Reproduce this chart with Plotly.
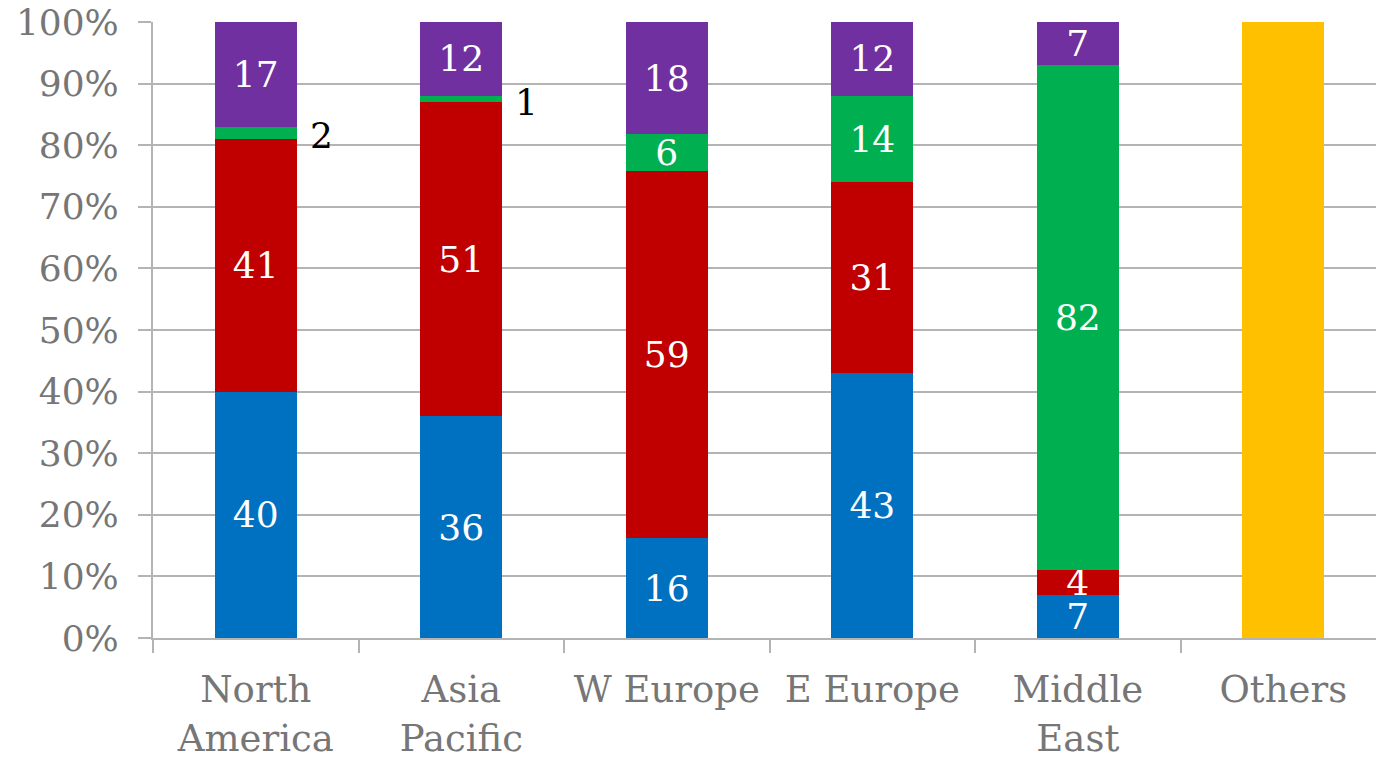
import plotly.graph_objects as go

categories = ["North<br>America", "Asia<br>Pacific", "W Europe", "E Europe", "Middle<br>East", "Others"]
blue_vals = [40, 36, 16, 43, 7, 0]
red_vals = [41, 51, 59, 31, 4, 0]
green_vals = [2, 1, 6, 14, 82, 0]
purple_vals = [17, 12, 18, 12, 7, 0]
yellow_vals = [0, 0, 0, 0, 0, 100]
y_ticks = [0, 10, 20, 30, 40, 50, 60, 70, 80, 90, 100]
y_tick_labels = [f"{v}%" for v in y_ticks]

FONT = "DejaVu Serif"
GRAY = "#767676"
GRID = "#b4b4b4"

series = [
    ("blue", blue_vals, "#0070C0"),
    ("red", red_vals, "#C00000"),
    ("green", green_vals, "#00B050"),
    ("purple", purple_vals, "#7030A0"),
    ("yellow", yellow_vals, "#FFC000"),
]

fig = go.Figure()
for name, vals, color in series:
    text = [str(v) if v > 2 and name != "yellow" else "" for v in vals]
    fig.add_trace(go.Bar(
        x=categories, y=vals, name=name, marker=dict(color=color, line=dict(width=0)),
        text=text, textposition="inside", insidetextanchor="middle",
        constraintext="none", textangle=0,
        textfont=dict(family=FONT, size=36, color="white"),
        hoverinfo="skip",
    ))

# outside labels for small green segments
totals = [b + r + g + p + y for b, r, g, p, y in zip(blue_vals, red_vals, green_vals, purple_vals, yellow_vals)]
for i, g in enumerate(green_vals):
    if 0 < g <= 2:
        mid = (blue_vals[i] + red_vals[i] + g / 2) / totals[i] * 100
        fig.add_annotation(x=categories[i], y=mid, text=str(g), showarrow=False,
                           xanchor="left", xshift=52, yshift=-3,
                           font=dict(family=FONT, size=36, color="black"))

fig.update_layout(
    barmode="stack", barnorm="percent", bargap=0.6,
    width=1376, height=760,
    margin=dict(l=153, r=0, t=22, b=120),
    plot_bgcolor="white", paper_bgcolor="white",
    showlegend=False,
    font=dict(family=FONT, color=GRAY),
)
fig.update_xaxes(
    range=[-0.5, 5.451], tickson="boundaries", ticks="outside", ticklen=13,
    tickcolor=GRID, tickwidth=2, showgrid=False, showline=True, linecolor=GRID, linewidth=2,
    ticklabelstandoff=18,
    tickfont=dict(family=FONT, size=37, color=GRAY), fixedrange=True,
)
fig.update_yaxes(
    range=[0, 100], tickvals=y_ticks, ticktext=y_tick_labels,
    ticks="outside", ticklen=13, tickcolor=GRID, tickwidth=2,
    showgrid=True, gridcolor=GRID, gridwidth=2,
    showline=True, linecolor=GRID, linewidth=2, zeroline=False,
    ticklabelstandoff=12,
    tickfont=dict(family=FONT, size=36, color=GRAY), fixedrange=True,
)

fig.write_html("out.html", config={"displayModeBar": False})
